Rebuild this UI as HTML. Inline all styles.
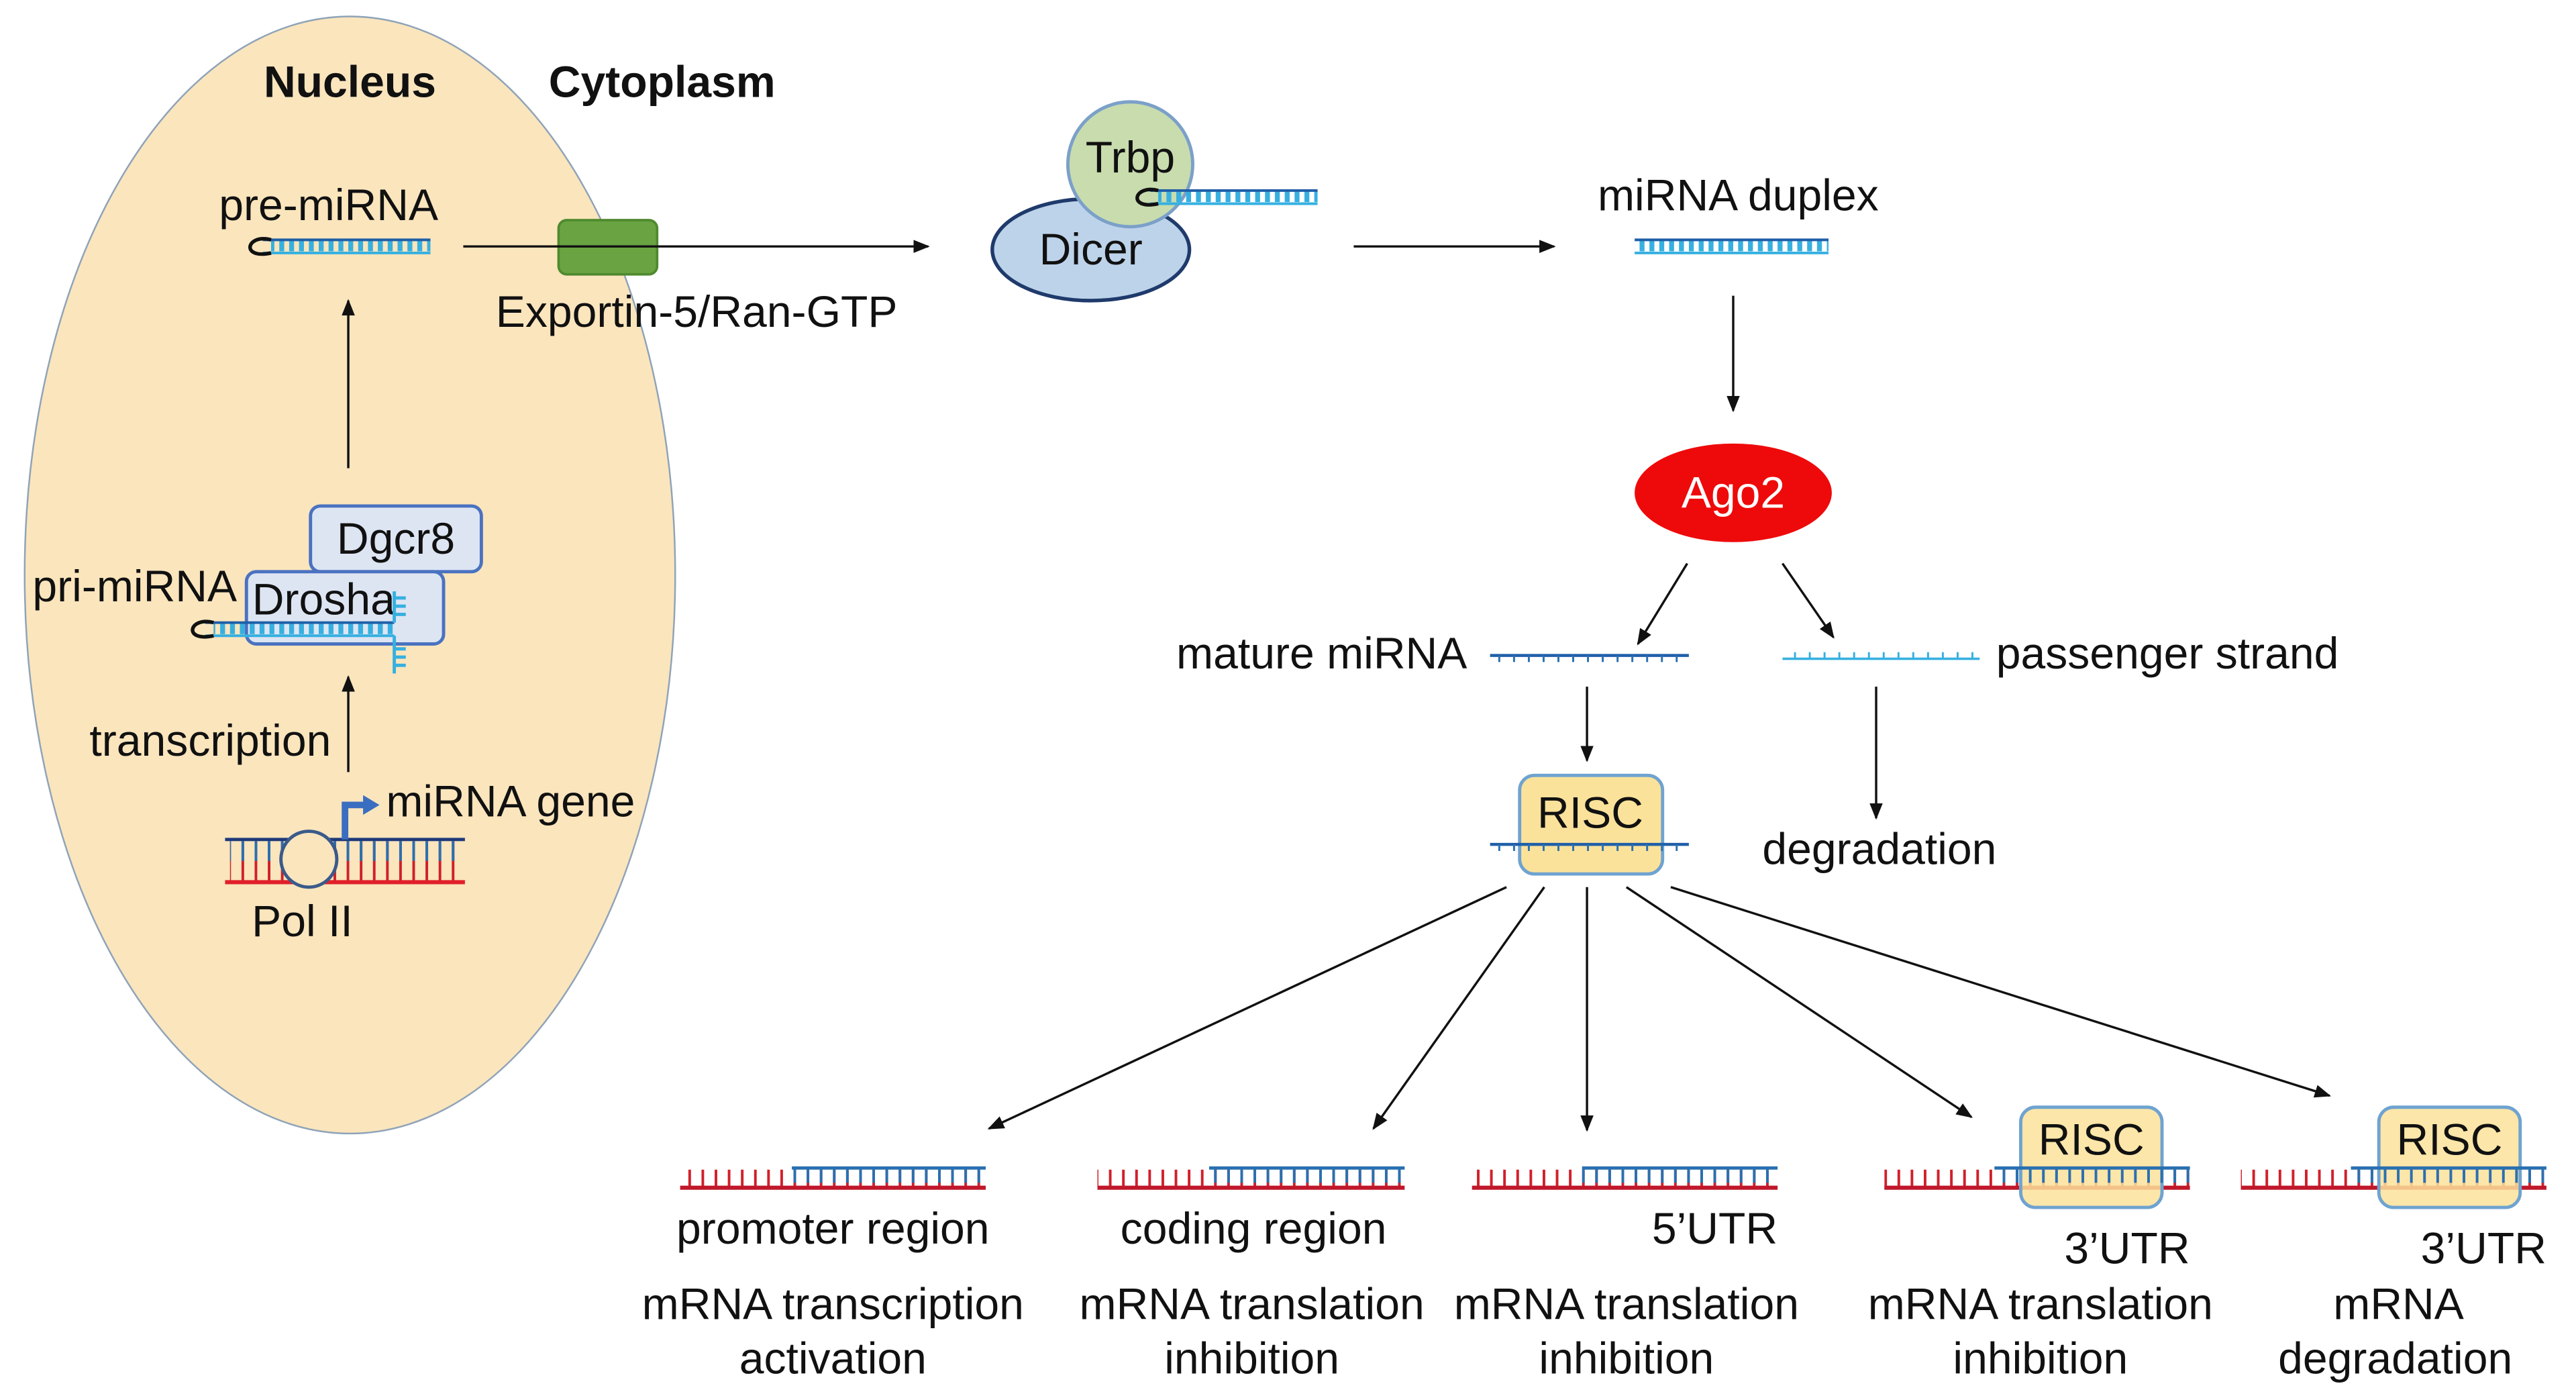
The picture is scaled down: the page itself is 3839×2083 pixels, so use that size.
<!DOCTYPE html>
<html><head><meta charset="utf-8"><style>html,body{margin:0;padding:0;background:#fff}svg{display:block}text{font-family:"Liberation Sans",sans-serif;fill:#111}</style></head><body>
<svg width="3839" height="2083" viewBox="0 0 1568 851" preserveAspectRatio="none" xmlns="http://www.w3.org/2000/svg">
<defs>
<marker id="a" markerWidth="10" markerHeight="8" refX="9" refY="4" orient="auto" markerUnits="userSpaceOnUse"><path d="M0,0 L10,4 L0,8 z" fill="#111"/></marker>
<pattern id="tk" width="6" height="10" patternUnits="userSpaceOnUse"><rect x="2" y="0" width="3" height="10" fill="#36b0e0"/></pattern>
<pattern id="tr" width="8" height="12" patternUnits="userSpaceOnUse"><rect x="3" y="0" width="1.6" height="12" fill="#d0202a"/></pattern>
<pattern id="tb" width="8" height="12" patternUnits="userSpaceOnUse"><rect x="3" y="0" width="1.6" height="12" fill="#2a70b0"/></pattern>
<pattern id="tm" width="9" height="4" patternUnits="userSpaceOnUse"><rect x="3" y="0" width="1.2" height="4" fill="#2a70b0"/></pattern>
<pattern id="tp" width="9" height="4" patternUnits="userSpaceOnUse"><rect x="3" y="0" width="1.2" height="4" fill="#36b0e0"/></pattern>
</defs>
<ellipse cx="213" cy="350" rx="198" ry="340" fill="#fae5bd" stroke="#8fa3b8" stroke-width="1"/>
<g font-size="27">
<text x="213" y="59" font-weight="bold" text-anchor="middle">Nucleus</text>
<text x="403" y="59" font-weight="bold" text-anchor="middle">Cytoplasm</text>
<text x="200" y="134" text-anchor="middle">pre-miRNA</text>
</g>
<rect x="165" y="146" width="97" height="7" fill="url(#tk)"/>
<line x1="160" y1="146" x2="262" y2="146" stroke="#1f5fa8" stroke-width="1.6"/>
<line x1="160" y1="154" x2="262" y2="154" stroke="#36b0e0" stroke-width="1.6"/>
<path d="M165,146 C150,142 146,158 165,154" stroke="#111" stroke-width="2.2" fill="none"/>
<rect x="340" y="134" width="60" height="33" rx="5" fill="#6aa342" stroke="#4f8a2e" stroke-width="1.5"/>
<line x1="282" y1="150" x2="565" y2="150" stroke="#111" stroke-width="1.4" marker-end="url(#a)"/>
<text x="424" y="199" font-size="27" text-anchor="middle">Exportin-5/Ran-GTP</text>
<ellipse cx="664" cy="152" rx="60" ry="31" fill="#bdd3ea" stroke="#1f3a6b" stroke-width="2.2"/>
<circle cx="688" cy="100" r="38" fill="#c8dcae" stroke="#7ba0c9" stroke-width="2"/>
<text x="688" y="105" font-size="27" text-anchor="middle">Trbp</text>
<text x="664" y="161" font-size="27" text-anchor="middle">Dicer</text>
<rect x="705" y="116" width="97" height="7" fill="url(#tk)"/>
<line x1="700" y1="116" x2="802" y2="116" stroke="#1f5fa8" stroke-width="1.6"/>
<line x1="700" y1="124" x2="802" y2="124" stroke="#36b0e0" stroke-width="1.6"/>
<path d="M705,116 C690,112 686,128 705,124" stroke="#111" stroke-width="2.2" fill="none"/>
<line x1="824" y1="150" x2="946" y2="150" stroke="#111" stroke-width="1.4" marker-end="url(#a)"/>
<text x="1058" y="128" font-size="27" text-anchor="middle">miRNA duplex</text>
<rect x="995" y="146" width="118" height="7" fill="url(#tk)"/>
<line x1="995" y1="146" x2="1113" y2="146" stroke="#1f5fa8" stroke-width="1.6"/>
<line x1="995" y1="154" x2="1113" y2="154" stroke="#36b0e0" stroke-width="1.6"/>
<line x1="1055" y1="180" x2="1055" y2="250" stroke="#111" stroke-width="1.4" marker-end="url(#a)"/>
<ellipse cx="1055" cy="300" rx="60" ry="30" fill="#ee0a0a"/>
<text x="1055" y="309" font-size="27" text-anchor="middle" style="fill:#fff">Ago2</text>
<line x1="1027" y1="343" x2="997" y2="392" stroke="#111" stroke-width="1.4" marker-end="url(#a)"/>
<line x1="1085" y1="343" x2="1116" y2="388" stroke="#111" stroke-width="1.4" marker-end="url(#a)"/>
<text x="893" y="407" font-size="27" text-anchor="end">mature miRNA</text>
<line x1="907" y1="399" x2="1028" y2="399" stroke="#1f5fa8" stroke-width="1.8"/>
<rect x="907" y="399" width="121" height="4" fill="url(#tm)"/>
<line x1="1085" y1="401" x2="1205" y2="401" stroke="#36b0e0" stroke-width="1.5"/>
<rect x="1085" y="397" width="120" height="4" fill="url(#tp)"/>
<text x="1215" y="407" font-size="27">passenger strand</text>
<line x1="966" y1="418" x2="966" y2="463" stroke="#111" stroke-width="1.4" marker-end="url(#a)"/>
<line x1="1142" y1="418" x2="1142" y2="498" stroke="#111" stroke-width="1.4" marker-end="url(#a)"/>
<text x="1144" y="526" font-size="27" text-anchor="middle">degradation</text>
<rect x="925" y="472" width="87" height="60" rx="9" fill="#fbe29a" stroke="#6fa3d0" stroke-width="2"/>
<text x="968" y="504" font-size="27" text-anchor="middle">RISC</text>
<line x1="907" y1="514" x2="1028" y2="514" stroke="#1f5fa8" stroke-width="1.8"/>
<rect x="907" y="514" width="121" height="4" fill="url(#tm)"/>
<g stroke="#111" stroke-width="1.4">
<line x1="917" y1="540" x2="602" y2="687" marker-end="url(#a)"/>
<line x1="940" y1="540" x2="836" y2="687" marker-end="url(#a)"/>
<line x1="966" y1="540" x2="966" y2="688" marker-end="url(#a)"/>
<line x1="990" y1="540" x2="1200" y2="680" marker-end="url(#a)"/>
<line x1="1017" y1="540" x2="1418" y2="667" marker-end="url(#a)"/>
</g>
<rect x="414" y="712" width="186" height="10" fill="url(#tr)"/><line x1="414" y1="723" x2="600" y2="723" stroke="#c0182a" stroke-width="2.5"/>
<rect x="482" y="711" width="118" height="9" fill="url(#tb)"/><line x1="482" y1="711" x2="600" y2="711" stroke="#2a70b0" stroke-width="2"/>
<rect x="668" y="712" width="187" height="10" fill="url(#tr)"/><line x1="668" y1="723" x2="855" y2="723" stroke="#c0182a" stroke-width="2.5"/>
<rect x="736" y="711" width="119" height="9" fill="url(#tb)"/><line x1="736" y1="711" x2="855" y2="711" stroke="#2a70b0" stroke-width="2"/>
<rect x="896" y="712" width="186" height="10" fill="url(#tr)"/><line x1="896" y1="723" x2="1082" y2="723" stroke="#c0182a" stroke-width="2.5"/>
<rect x="963" y="711" width="119" height="9" fill="url(#tb)"/><line x1="963" y1="711" x2="1082" y2="711" stroke="#2a70b0" stroke-width="2"/>
<rect x="1147" y="712" width="186" height="10" fill="url(#tr)"/><line x1="1147" y1="723" x2="1333" y2="723" stroke="#c0182a" stroke-width="2.5"/>
<rect x="1230" y="674" width="86" height="61" rx="9" fill="#fbe29a" fill-opacity="0.85" stroke="#6fa3d0" stroke-width="2"/>
<rect x="1214" y="711" width="119" height="9" fill="url(#tb)"/><line x1="1214" y1="711" x2="1333" y2="711" stroke="#2a70b0" stroke-width="2"/>
<text x="1273" y="703" font-size="27" text-anchor="middle">RISC</text>
<rect x="1364" y="712" width="186" height="10" fill="url(#tr)"/><line x1="1364" y1="723" x2="1550" y2="723" stroke="#c0182a" stroke-width="2.5"/>
<rect x="1448" y="674" width="86" height="61" rx="9" fill="#fbe29a" fill-opacity="0.85" stroke="#6fa3d0" stroke-width="2"/>
<rect x="1431" y="711" width="119" height="9" fill="url(#tb)"/><line x1="1431" y1="711" x2="1550" y2="711" stroke="#2a70b0" stroke-width="2"/>
<text x="1491" y="703" font-size="27" text-anchor="middle">RISC</text>
<g font-size="27" text-anchor="middle">
<text x="507" y="757">promoter region</text>
<text x="763" y="757">coding region</text>
<text x="1082" y="757" text-anchor="end">5’UTR</text>
<text x="1333" y="769" text-anchor="end">3’UTR</text>
<text x="1550" y="769" text-anchor="end">3’UTR</text>
<text x="507" y="803">mRNA transcription</text><text x="507" y="836">activation</text>
<text x="762" y="803">mRNA translation</text><text x="762" y="836">inhibition</text>
<text x="990" y="803">mRNA translation</text><text x="990" y="836">inhibition</text>
<text x="1242" y="803">mRNA translation</text><text x="1242" y="836">inhibition</text>
<text x="1460" y="803">mRNA</text><text x="1458" y="836">degradation</text>
</g>
<line x1="212" y1="285" x2="212" y2="183" stroke="#111" stroke-width="1.4" marker-end="url(#a)"/>
<rect x="189" y="308" width="104" height="40" rx="6" fill="#dde5f3" stroke="#4a72c0" stroke-width="2"/>
<text x="241" y="337" font-size="27" text-anchor="middle">Dgcr8</text>
<rect x="150" y="348" width="120" height="44" rx="6" fill="#dde5f3" stroke="#4a72c0" stroke-width="2"/>
<text x="197" y="374" font-size="27" text-anchor="middle">Drosha</text>
<text x="82" y="366" font-size="27" text-anchor="middle">pri-miRNA</text>
<rect x="130" y="379" width="110" height="7" fill="url(#tk)"/>
<line x1="125" y1="379" x2="240" y2="379" stroke="#1f5fa8" stroke-width="1.6"/>
<line x1="125" y1="387" x2="240" y2="387" stroke="#36b0e0" stroke-width="1.6"/>
<path d="M130,379 C115,375 111,391 130,387" stroke="#111" stroke-width="2.2" fill="none"/>
<path d="M240,360 V379 M240,364 h7 M240,369 h7 M240,374 h7 M240,387 V410 M240,395 h7 M240,400 h7 M240,405 h7" stroke="#36b0e0" stroke-width="2" fill="none"/>
<line x1="212" y1="470" x2="212" y2="412" stroke="#111" stroke-width="1.4" marker-end="url(#a)"/>
<text x="128" y="460" font-size="27" text-anchor="middle">transcription</text>
<rect x="140" y="512" width="140" height="24" fill="url(#tr)"/>
<rect x="140" y="512" width="140" height="12" fill="url(#tb)"/>
<line x1="137" y1="511" x2="283" y2="511" stroke="#1f3a7a" stroke-width="2"/>
<line x1="137" y1="537" x2="283" y2="537" stroke="#e0202a" stroke-width="2.5"/>
<circle cx="188" cy="523" r="17" fill="#fae5bd" stroke="#3a5a8a" stroke-width="2"/>
<path d="M210,511 V490 H222" stroke="#3a6ec0" stroke-width="4" fill="none"/>
<path d="M221,484 L231,490 L221,496 z" fill="#3a6ec0"/>
<text x="235" y="497" font-size="27">miRNA gene</text>
<text x="184" y="570" font-size="27" text-anchor="middle">Pol II</text>
</svg>
</body></html>
